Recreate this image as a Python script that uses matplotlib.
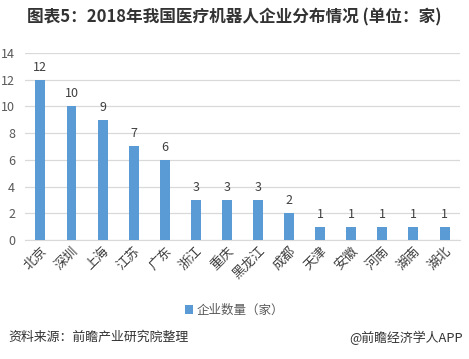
import matplotlib.pyplot as plt

plt.rcParams['font.family'] = ['Noto Sans CJK SC', 'DejaVu Sans']

provinces = ['北京', '深圳', '上海', '江苏', '广东', '浙江', '重庆', '黑龙江',
             '成都', '天津', '安徽', '河南', '湖南', '湖北']
companies = [12, 10, 9, 7, 6, 3, 3, 3, 2, 1, 1, 1, 1, 1]
y_ticks = [0, 2, 4, 6, 8, 10, 12, 14]

fig = plt.figure(figsize=(4.69, 3.59), dpi=100)
ax = fig.add_axes([0.053, 0.3315, 0.928, 0.521])

x = range(len(provinces))
bars = ax.bar(x, companies, width=0.32, color='#5b9bd5', zorder=3,
              label='企业数量（家）')
for xi, v in zip(x, companies):
    ax.text(xi, v + 0.45, str(v), ha='center', va='bottom', fontsize=9,
            color='#404040')

ax.set_xlim(-0.5, len(provinces) - 0.5)
ax.set_ylim(0, 14)
ax.set_yticks(y_ticks)
ax.yaxis.grid(True, color='#d9d9d9', linewidth=0.9, zorder=0)
for side in ['top', 'right', 'left']:
    ax.spines[side].set_visible(False)
ax.spines['bottom'].set_color('#d9d9d9')
ax.tick_params(axis='both', length=0, labelsize=9, colors='#595959')
ax.tick_params(axis='y', pad=7)
ax.tick_params(axis='x', labelsize=9.5, pad=3)
ax.set_xticks(list(x))
ax.set_xticklabels(provinces, rotation=45, ha='right', va='top',
                   rotation_mode='anchor', color='#404040')

fig.legend(handles=[bars], loc='center', bbox_to_anchor=(0.5, 0.135),
           frameon=False, fontsize=9, handlelength=0.7, handleheight=0.7,
           handletextpad=0.3, labelcolor='#595959')

fig.text(0.5, 0.95, '图表5：2018年我国医疗机器人企业分布情况 (单位：家)',
         ha='center', va='center', fontsize=12, fontweight='bold',
         color='#333333')
fig.text(0.017, 0.06, '资料来源：前瞻产业研究院整理', ha='left', va='center',
         fontsize=9.3, color='#333333')
fig.text(0.987, 0.06, '@前瞻经济学人APP', ha='right', va='center',
         fontsize=9.3, color='#333333')

fig.savefig('out.png', dpi=100)
